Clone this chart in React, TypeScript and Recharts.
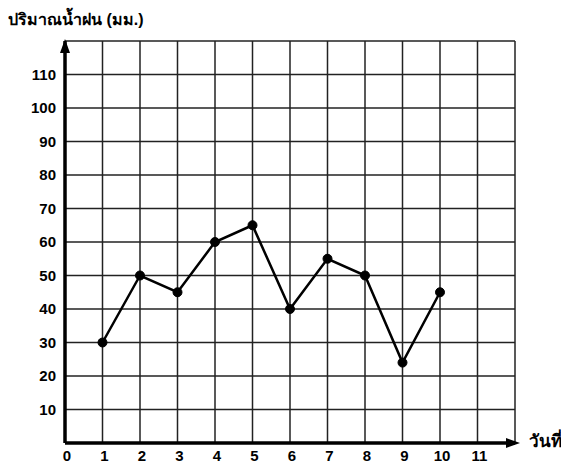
import { LineChart, Line, XAxis, YAxis, CartesianGrid, ReferenceDot } from 'recharts';

// rainfall (mm) per day
const days = [1, 2, 3, 4, 5, 6, 7, 8, 9, 10];
const rainfall = [30, 50, 45, 60, 65, 40, 55, 50, 24, 45];

const xTicks = [0, 1, 2, 3, 4, 5, 6, 7, 8, 9, 10, 11];
const yTicks = [10, 20, 30, 40, 50, 60, 70, 80, 90, 100, 110];
const gridX = [1, 2, 3, 4, 5, 6, 7, 8, 9, 10, 11, 12];
const gridY = [10, 20, 30, 40, 50, 60, 70, 80, 90, 100, 110, 120];

const data = days.map((d, i) => ({ day: d, rain: rainfall[i] }));

const tickFont = { fontFamily: '"Liberation Sans", Arial, sans-serif', fontWeight: 700, fontSize: 15, fill: '#000' };

const UpArrow = (props: any) => {
  const { cx, cy } = props;
  return <path d={`M${cx},${cy - 2} L${cx - 5},${cy + 12} L${cx + 5},${cy + 12} Z`} fill="#000" />;
};

const RightArrow = (props: any) => {
  const { cx, cy } = props;
  return <path d={`M${cx + 5},${cy} L${cx - 9},${cy - 5} L${cx - 9},${cy + 5} Z`} fill="#000" />;
};

const App = () => {
  return (
    <div style={{ position: 'absolute', left: 0, top: 0, width: 561, height: 463, background: '#fff' }}>
      <div
        style={{
          position: 'absolute',
          left: 8,
          top: 7,
          fontFamily: '"Liberation Sans", Arial, sans-serif',
          fontWeight: 700,
          fontSize: 16,
          color: '#000',
          whiteSpace: 'nowrap',
        }}
      >
        ปริมาณน้ำฝน (มม.)
      </div>
      <div
        style={{
          position: 'absolute',
          left: 529,
          top: 427,
          fontFamily: '"Liberation Sans", Arial, sans-serif',
          fontWeight: 700,
          fontSize: 17,
          color: '#000',
          whiteSpace: 'nowrap',
        }}
      >
        วันที่
      </div>
      <LineChart width={561} height={463} data={data} margin={{ top: 41, right: 46, bottom: 0, left: 15 }}>
        <CartesianGrid
          stroke="#222"
          strokeWidth={1.5}
          horizontalValues={gridY}
          verticalValues={gridX}
        />
        <XAxis
          dataKey="day"
          type="number"
          domain={[0, 12]}
          ticks={xTicks}
          interval={0}
          height={20}
          tickLine={false}
          axisLine={{ stroke: '#000', strokeWidth: 3.5 }}
          tick={{ ...tickFont, dx: 2, dy: -1 }}
        />
        <YAxis
          type="number"
          domain={[0, 120]}
          ticks={yTicks}
          interval={0}
          width={50}
          tickLine={false}
          axisLine={{ stroke: '#000', strokeWidth: 3.5 }}
          tick={{ ...tickFont, dx: -1 }}
        />
        <ReferenceDot x={0} y={120} r={0} shape={UpArrow} ifOverflow="visible" />
        <ReferenceDot x={12} y={0} r={0} shape={RightArrow} ifOverflow="visible" />
        <Line
          type="linear"
          dataKey="rain"
          stroke="#000"
          strokeWidth={2.5}
          dot={{ r: 4.5, fill: '#000', stroke: '#000', strokeWidth: 1 }}
          isAnimationActive={false}
        />
      </LineChart>
    </div>
  );
};

export default App;
